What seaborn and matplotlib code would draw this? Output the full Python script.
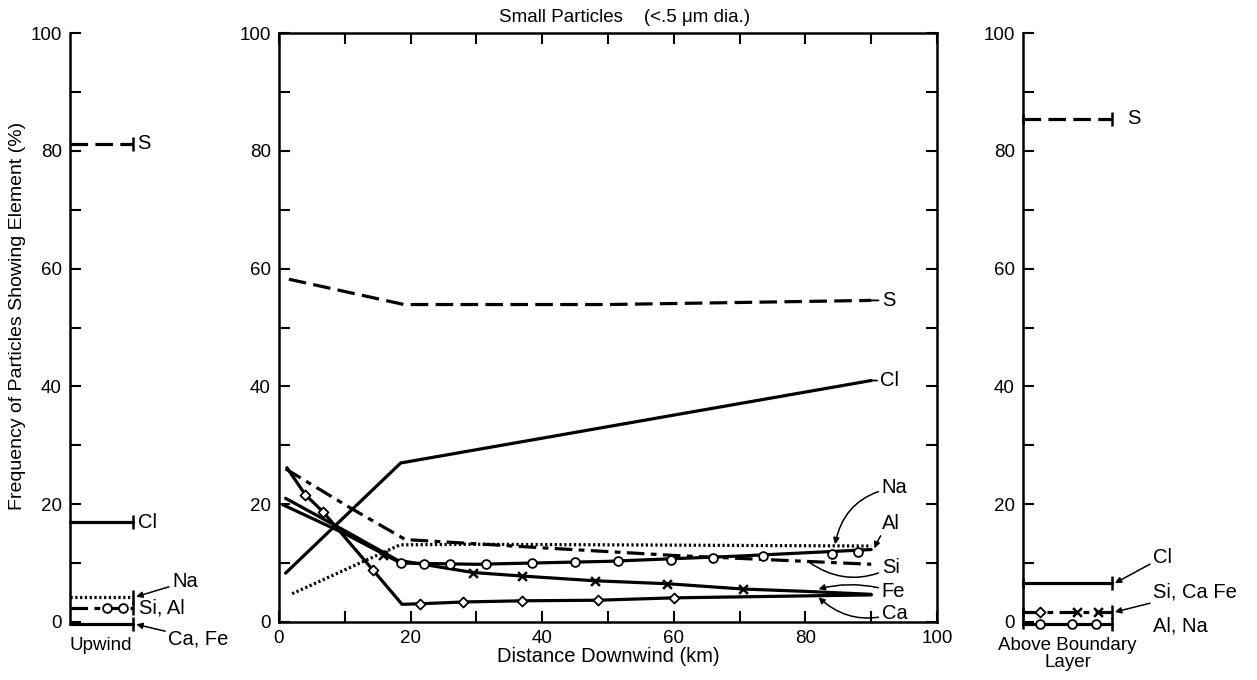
import matplotlib
matplotlib.use('Agg')
import matplotlib.pyplot as plt
from matplotlib.ticker import MultipleLocator
import seaborn as sns

# ---- middle panel: distance downwind (km) vs frequency (%) ----
s_km = [1.5, 19, 50, 90]
s_pct = [58.2, 53.9, 53.9, 54.6]
cl_km = [1, 18.5, 90]
cl_pct = [8.3, 27.0, 41.0]
na_km = [2, 18.4, 30, 90]
na_pct = [4.8, 13.1, 13.2, 12.9]
si_km = [1, 10.8, 19.2, 40, 60, 80, 90]
si_pct = [26.0, 19.4, 14.0, 12.6, 11.3, 10.3, 9.8]
al_km = [0.6, 10, 18.5, 30, 50, 70, 90]
al_pct = [19.9, 15.0, 10.0, 9.8, 10.3, 11.2, 12.3]
al_mark_km = [18.5, 22, 26, 31.5, 38.5, 45, 51.5, 59.5, 66, 73.5, 84, 88]
al_mark_pct = [10.0, 9.9, 9.8, 9.8, 10.0, 10.2, 10.3, 10.6, 10.9, 11.2, 11.5, 11.8]
fe_km = [1, 10, 18, 29.5, 37, 48, 59, 70.5, 80, 90]
fe_pct = [21.0, 15.5, 10.5, 8.4, 7.8, 7.0, 6.5, 5.6, 5.2, 4.7]
fe_mark_km = [15.8, 29.5, 37, 48, 59, 70.5]
fe_mark_pct = [11.3, 8.4, 7.8, 7.0, 6.5, 5.6]
ca_km = [1.2, 4, 6.7, 14.3, 18.7, 21.5, 28, 37, 48.5, 60, 90]
ca_pct = [26.2, 21.6, 18.7, 8.8, 3.0, 3.1, 3.4, 3.6, 3.7, 4.1, 4.6]
ca_mark_km = [4, 6.7, 14.3, 21.5, 28, 37, 48.5, 60]
ca_mark_pct = [21.6, 18.7, 8.8, 3.1, 3.4, 3.6, 3.7, 4.1]

# ---- side panels: single level per element group ----
bar_span = [0, 1]
upwind_labels = ['S', 'Cl', 'Na', 'Si, Al', 'Ca, Fe']
upwind_pct = [81.2, 16.9, 4.3, 2.4, -0.4]
upwind_sial_marks = [0.59, 0.84]
above_labels = ['S', 'Cl', 'Si, Ca Fe', 'Al, Na']
above_pct = [85.4, 6.6, 1.7, -0.4]
above_sicafe_diamonds = [0.19]
above_sicafe_x = [0.61, 0.84]
above_alna_circles = [0.19, 0.55, 0.82]

sns.set_theme(style='ticks')
plt.rcParams['font.family'] = ['Liberation Sans', 'DejaVu Sans']
plt.rcParams.update({'text.color': 'black', 'axes.labelcolor': 'black',
                     'xtick.color': 'black', 'ytick.color': 'black'})

W, H = 1257, 680
fig = plt.figure(figsize=(W / 100, H / 100), dpi=100)
bottom, height = 1 - 622 / H, 589 / H
ax_l = fig.add_axes([70 / W, bottom, 82 / W, height])
ax_m = fig.add_axes([279 / W, bottom, 658 / W, height])
ax_r = fig.add_axes([1023 / W, bottom, 116 / W, height])

LW = 2.3
DASH = (0, (5.5, 2.3))
DOT = (0, (0.7, 0.8))
DASHDOT = (0, (5.5, 2.0, 1.8, 2.0))
fs = 14.5
tick_fs = 13.5


def line(ax, x, y, ls='-', lw=LW):
    sns.lineplot(x=x, y=y, ax=ax, color='black', linewidth=lw, linestyle=ls,
                 sort=False, estimator=None, clip_on=False)


def marks(ax, x, y, marker, size=38):
    if marker in ('x', '|'):
        sns.scatterplot(x=x, y=y, ax=ax, marker=marker, s=size, color='black',
                        linewidth=1.8, zorder=4, clip_on=False)
    else:
        sns.scatterplot(x=x, y=y, ax=ax, marker=marker, s=size, color='white',
                        edgecolor='black', linewidth=1.3, zorder=4, clip_on=False)


def label(ax, text, xy, xytext, props=None):
    ax.annotate(text, xy=xy, xytext=xytext, va='center', fontsize=fs,
                arrowprops=props, annotation_clip=False)


# middle panel
line(ax_m, s_km, s_pct, DASH)
line(ax_m, cl_km, cl_pct)
line(ax_m, na_km, na_pct, DOT)
line(ax_m, si_km, si_pct, DASHDOT)
line(ax_m, al_km, al_pct)
line(ax_m, fe_km, fe_pct)
line(ax_m, ca_km, ca_pct)
marks(ax_m, al_mark_km, al_mark_pct, 'o', 40)
marks(ax_m, fe_mark_km, fe_mark_pct, 'x', 40)
marks(ax_m, ca_mark_km, ca_mark_pct, 'D', 26)

arrow = dict(arrowstyle='-|>', color='black', lw=1.1, mutation_scale=9, shrinkA=0, shrinkB=0)
plain = dict(arrowstyle='-', color='black', lw=1.3, shrinkA=0, shrinkB=0)
label(ax_m, 'S', (s_km[-1], s_pct[-1]), (91.6, s_pct[-1]), plain)
label(ax_m, 'Cl', (cl_km[-1], cl_pct[-1]), (91.4, cl_pct[-1]), plain)
label(ax_m, 'Na', (84.5, 13.2), (91.6, 22.8), dict(arrow, connectionstyle='arc3,rad=0.35'))
label(ax_m, 'Al', (90.5, 12.5), (91.6, 16.8), dict(arrow, connectionstyle='arc3,rad=0.1'))
label(ax_m, 'Si', (80.5, 10.2), (91.6, 9.2), dict(plain, lw=1.1, connectionstyle='arc3,rad=-0.3'))
label(ax_m, 'Fe', (82, 5.6), (91.6, 5.1), dict(arrow, connectionstyle='arc3,rad=0.15'))
label(ax_m, 'Ca', (82, 4.2), (91.6, 1.5), dict(arrow, connectionstyle='arc3,rad=-0.3'))

ax_m.set_xlim(0, 100)
ax_m.set_ylim(0, 100)
ax_m.xaxis.set_major_locator(MultipleLocator(20))
ax_m.xaxis.set_minor_locator(MultipleLocator(10))
ax_m.yaxis.set_major_locator(MultipleLocator(20))
ax_m.yaxis.set_minor_locator(MultipleLocator(10))
ax_m.tick_params(which='both', direction='in', length=8, width=1.5, top=True, right=True,
                 labelsize=tick_fs, color='black', pad=6)
ax_m.set_xlabel('Distance Downwind (km)', fontsize=14.5, labelpad=0)
ax_m.set_ylabel('')
for sp in ax_m.spines.values():
    sp.set_linewidth(1.8)
    sp.set_color('black')

# left panel (upwind)
upwind_ls = [DASH, '-', DOT, DASHDOT, '-']
for pct, ls in zip(upwind_pct, upwind_ls):
    line(ax_l, bar_span, [pct, pct], ls)
marks(ax_l, [bar_span[1]] * len(upwind_pct), upwind_pct, '|', 110)
marks(ax_l, upwind_sial_marks, [upwind_pct[3]] * len(upwind_sial_marks), 'o', 40)
label(ax_l, upwind_labels[0], (1.0, upwind_pct[0]), (1.06, upwind_pct[0]))
label(ax_l, upwind_labels[1], (1.0, upwind_pct[1]), (1.08, upwind_pct[1]))
label(ax_l, upwind_labels[2], (1.05, upwind_pct[2]), (1.62, 6.8), arrow)
label(ax_l, upwind_labels[3], (1.0, upwind_pct[3]), (1.1, upwind_pct[3]))
label(ax_l, upwind_labels[4], (1.05, upwind_pct[4]), (1.56, -2.9), arrow)
ax_l.set_xlim(0, 1.3)
ax_l.set_xticks([0.48])
ax_l.set_xticklabels(['Upwind'])

# right panel (above boundary layer)
above_ls = [DASH, '-', DASHDOT, '-']
for pct, ls in zip(above_pct, above_ls):
    line(ax_r, bar_span, [pct, pct], ls)
marks(ax_r, [bar_span[1]] * len(above_pct), above_pct, '|', 110)
marks(ax_r, [bar_span[0]] * len(above_pct), above_pct, '|', 60)
marks(ax_r, above_sicafe_diamonds, [above_pct[2]] * len(above_sicafe_diamonds), 'D', 26)
marks(ax_r, above_sicafe_x, [above_pct[2]] * len(above_sicafe_x), 'x', 40)
marks(ax_r, above_alna_circles, [above_pct[3]] * len(above_alna_circles), 'o', 40)
label(ax_r, above_labels[0], (1.0, above_pct[0]), (1.17, above_pct[0]))
label(ax_r, above_labels[1], (1.03, above_pct[1]), (1.46, 11.0), arrow)
label(ax_r, above_labels[2], (1.03, above_pct[2]), (1.46, 5.1), arrow)
label(ax_r, above_labels[3], (1.0, above_pct[3]), (1.46, -0.7))
ax_r.set_xlim(0, 1.3)
ax_r.set_xticks([0.5])
ax_r.set_xticklabels(['Above Boundary\nLayer'], linespacing=0.95)

for ax in (ax_l, ax_r):
    ax.set_ylim(0, 100)
    ax.yaxis.set_major_locator(MultipleLocator(20))
    ax.yaxis.set_minor_locator(MultipleLocator(10))
    ax.tick_params(axis='y', which='both', direction='in', length=8, width=1.5,
                   labelsize=tick_fs, color='black', pad=6)
    ax.tick_params(axis='x', length=0, labelsize=13.5, pad=11)
    ax.set_xlabel('')
    ax.set_ylabel('')
    for side in ('top', 'right', 'bottom'):
        ax.spines[side].set_visible(False)
    ax.spines['left'].set_linewidth(1.8)
    ax.spines['left'].set_color('black')

fig.text(625 / W, 1 - 17 / H, 'Small Particles    (<.5 μm dia.)', ha='center', va='center',
         fontsize=13.5)
fig.text(18 / W, 1 - 316 / H, 'Frequency of Particles Showing Element (%)', rotation=90,
         ha='center', va='center', fontsize=14)

fig.savefig('out.png', dpi=100)
